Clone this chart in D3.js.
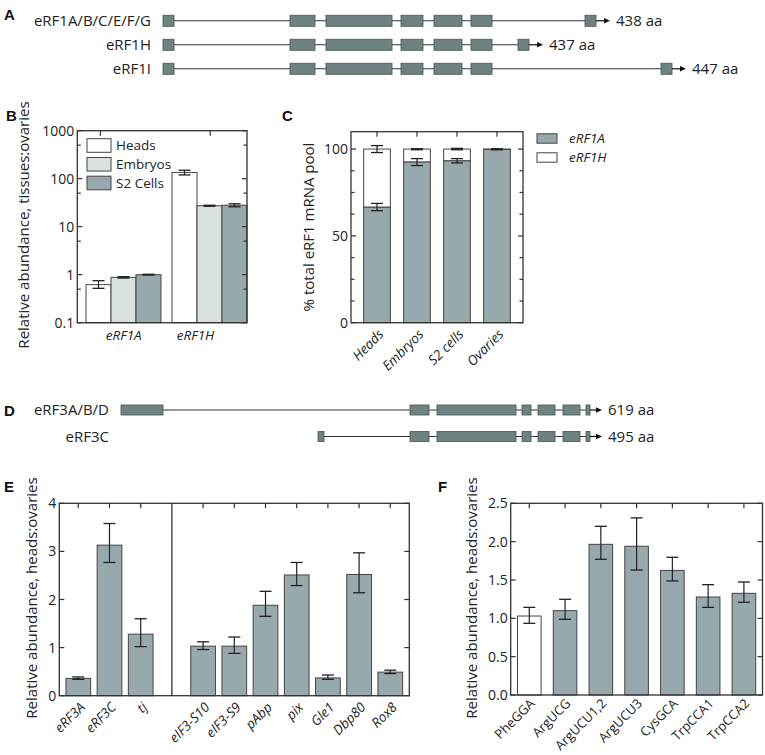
<!DOCTYPE html>
<html><head><meta charset="utf-8">
<script src="https://cdn.jsdelivr.net/npm/d3@7"></script>
<style>
body{margin:0;background:#fff}
svg{display:block}
text{font-family:"Open Sans",sans-serif;fill:#222}
.plabel{font-family:"Liberation Sans",Arial,sans-serif;font-weight:bold;font-size:15px;fill:#111}
</style>
</head><body>
<svg id="c" width="765" height="755"></svg>
<script>
// ---------- Panel A: eRF1 gene models ----------
const isoA = ["eRF1A/B/C/E/F/G", "eRF1H", "eRF1I"];
const lenA = ["438 aa", "437 aa", "447 aa"];
const sharedExonsA = [[3,14],[130,155],[166,232],[241,263],[274,302],[311,332]];
const lastExonA = [[425,436],[358,369],[501,512]];

// ---------- Panel D: eRF3 gene models ----------
const isoD = ["eRF3A/B/D", "eRF3C"];
const lenD = ["619 aa", "495 aa"];
const firstExonD = [[21,63],[218,224]];
const sharedExonsD = [[310,329],[337,416],[422,431],[438,455],[463,480],[486,490]];

// ---------- Panel B ----------
const groupsB = ["eRF1A", "eRF1H"];
const seriesB = ["Heads", "Embryos", "S2 Cells"];
const valuesB = {Heads:[0.62,135], Embryos:[0.88,27.3], "S2 Cells":[1.0,28]};
const errLoB = {Heads:[0.52,120], Embryos:[0.85,26.6], "S2 Cells":[0.98,26]};
const errHiB = {Heads:[0.75,150], Embryos:[0.91,28.0], "S2 Cells":[1.02,30]};
const ticksB = [0.1, 1, 10, 100, 1000];
const tickLabelsB = ["0.1", "1", "10", "100", "1000"];
const minorB = [0.5, 5, 50, 500];

// ---------- Panel C ----------
const catsC = ["Heads", "Embryos", "S2 cells", "Ovaries"];
const eRF1A_C = [66.5, 92.5, 93.2, 99.8];
const errLoA_C = [64.5, 90.5, 92.0, 99.6];
const errHiA_C = [68.7, 94.5, 94.5, 100.0];
const total_C = [100, 100, 100, 100];
const errLoT_C = [98.0, 99.6, 99.6, 99.8];
const errHiT_C = [102.0, 100.2, 100.4, 100.1];
const ticksC = [0, 50, 100];
const minorC = [12.5, 25, 37.5, 62.5, 75, 87.5];

// ---------- Panel E ----------
const catsE = ["eRF3A","eRF3C","tj","eIF3-S10","eIF3-S9","pAbp","pix","Gle1","Dbp80","Rox8"];
const valuesE = [0.36, 3.13, 1.28, 1.03, 1.03, 1.88, 2.51, 0.37, 2.52, 0.49];
const errLoE = [0.34, 2.77, 1.02, 0.96, 0.88, 1.65, 2.29, 0.34, 2.14, 0.46];
const errHiE = [0.39, 3.58, 1.60, 1.12, 1.22, 2.17, 2.77, 0.43, 2.97, 0.53];
const ticksE = [0, 1, 2, 3, 4];

// ---------- Panel F ----------
const catsF = ["PheGGA","ArgUCG","ArgUCU1,2","ArgUCU3","CysGCA","TrpCCA1","TrpCCA2"];
const valuesF = [1.03, 1.10, 1.965, 1.94, 1.625, 1.278, 1.326];
const errLoF = [0.935, 0.987, 1.77, 1.63, 1.487, 1.143, 1.209];
const errHiF = [1.143, 1.248, 2.20, 2.31, 1.796, 1.439, 1.474];
const ticksF = [0, 0.5, 1.0, 1.5, 2.0, 2.5];
const tickLabelsF = ["0.0","0.5","1.0","1.5","2.0","2.5"];

// ---------- styles ----------
const BAR = "#98a9ae", LIGHT = "#d8e1df", EXON = "#6e8282", EXON_S = "#4f5f5f";
const AX = "#333";
const TICK_FS = "14px", TITLE_FS = "15px", CAT_FS = "13.5px", LEG_FS = "13.5px";
const svg = d3.select("#c");

// panel letters
[["A",4,20],["B",6,121],["C",282,121],["D",4,416],["E",4,492],["F",438,492]].forEach(([t,x,y])=>{
  svg.append("text").attr("class","plabel").attr("x",x).attr("y",y).text(t);
});

// ---------- gene model helper ----------
function geneModel(g, xs, y, exons, h, tipLen, label, lenText, labelEnd) {
  const first = exons[0], last = exons[exons.length-1];
  g.append("line").attr("x1",xs(first[0])).attr("x2",xs(last[1])).attr("y1",y).attr("y2",y)
    .attr("stroke","#333").attr("stroke-width",1.1);
  g.selectAll(null).data(exons).join("rect")
    .attr("x",d=>xs(d[0])).attr("width",d=>xs(d[1])-xs(d[0]))
    .attr("y",y-h/2).attr("height",h)
    .attr("fill",EXON).attr("stroke",EXON_S).attr("stroke-width",0.9);
  const x0 = xs(last[1]), tip = x0 + tipLen;
  g.append("line").attr("x1",x0).attr("x2",tip-4).attr("y1",y).attr("y2",y).attr("stroke","#111").attr("stroke-width",1.2);
  g.append("path").attr("d",`M${tip},${y} L${tip-6},${y-2.8} L${tip-6},${y+2.8} Z`).attr("fill","#111");
  g.append("text").attr("x",tip+6).attr("y",y).attr("dy","0.36em").style("font-size","15px").text(lenText);
  g.append("text").attr("x",labelEnd).attr("y",y).attr("dy","0.36em").attr("text-anchor","end")
    .style("font-size","15px").text(label);
}

// Panel A
{
  const xs = d3.scaleLinear().domain([0,540]).range([160,700]);
  const ys = d3.scalePoint().domain(isoA).range([20.8,68.8]);
  const g = svg.append("g");
  isoA.forEach((iso,i)=>{
    geneModel(g, xs, ys(iso), sharedExonsA.concat([lastExonA[i]]), 11, 14, iso, lenA[i], 151);
  });
}
// Panel D
{
  const xs = d3.scaleLinear().domain([0,540]).range([100,640]);
  const ys = d3.scalePoint().domain(isoD).range([410,436.5]);
  const g = svg.append("g");
  isoD.forEach((iso,i)=>{
    geneModel(g, xs, ys(iso), [firstExonD[i]].concat(sharedExonsD), 10, 12, iso, lenD[i], 109);
  });
}

// ---------- helpers ----------
function frame(g, P) {
  g.append("rect").attr("x",P.l).attr("y",P.t).attr("width",P.r-P.l).attr("height",P.b-P.t)
    .attr("fill","none").attr("stroke",AX).attr("stroke-width",1.3);
}
function yTicks(g, P, y, vals, labels, len, withLabels) {
  vals.forEach((v,i)=>{
    const yy = y(v);
    g.append("line").attr("x1",P.l).attr("x2",P.l+len).attr("y1",yy).attr("y2",yy).attr("stroke",AX).attr("stroke-width",1.2);
    g.append("line").attr("x1",P.r).attr("x2",P.r-len).attr("y1",yy).attr("y2",yy).attr("stroke",AX).attr("stroke-width",1.2);
    if (withLabels) g.append("text").attr("x",P.l-3).attr("y",yy).attr("dy","0.36em").attr("text-anchor","end")
      .style("font-size",TICK_FS).text(labels[i]);
  });
}
function topTicks(g, P, xs) {
  xs.forEach(x=>g.append("line").attr("x1",x).attr("x2",x).attr("y1",P.t).attr("y2",P.t+5).attr("stroke",AX).attr("stroke-width",1.2));
}
function errBar(g, x, y1, y2, cap) {
  g.append("line").attr("x1",x).attr("x2",x).attr("y1",y1).attr("y2",y2).attr("stroke","#222").attr("stroke-width",1.2);
  [y1,y2].forEach(yy=>g.append("line").attr("x1",x-cap/2).attr("x2",x+cap/2).attr("y1",yy).attr("y2",yy).attr("stroke","#222").attr("stroke-width",1.3));
}
function yTitle(g, x, y, t) {
  g.append("text").attr("transform",`translate(${x},${y}) rotate(-90)`).attr("text-anchor","middle")
    .style("font-size",TITLE_FS).text(t);
}
function rotLabels(g, cats, xf, yb, italic, fs, off) {
  const o = off || [4, 9];
  cats.forEach((c,i)=>{
    g.append("text").attr("transform",`translate(${xf(c,i)+o[0]},${yb+o[1]}) rotate(-45)`)
      .attr("text-anchor","end").attr("dy","0.36em")
      .style("font-size",fs||CAT_FS).style("font-style",italic?"italic":"normal").text(c);
  });
}

// ---------- Panel B ----------
{
  const P = {l:77.3, r:247, t:130.7, b:322.7};
  const g = svg.append("g");
  const y = d3.scaleLog().domain([0.1,1000]).range([P.b,P.t]);
  const x0 = d3.scaleBand().domain(groupsB).range([86,247]).paddingInner(11/86);
  const x1 = d3.scaleBand().domain(seriesB).range([0,x0.bandwidth()]);
  const fills = {Heads:"#ffffff", Embryos:LIGHT, "S2 Cells":BAR};
  seriesB.forEach(s=>{
    groupsB.forEach((gr,i)=>{
      const v = valuesB[s][i];
      g.append("rect").attr("x",x0(gr)+x1(s)).attr("width",x1.bandwidth()).attr("y",y(v)).attr("height",P.b-y(v))
        .attr("fill",fills[s]).attr("stroke","#444").attr("stroke-width",1);
      errBar(g, x0(gr)+x1(s)+x1.bandwidth()/2, y(errLoB[s][i]), y(errHiB[s][i]), 12);
    });
  });
  frame(g,P);
  yTicks(g,P,y,ticksB,tickLabelsB,5,true);
  yTicks(g,P,y,minorB,[],3.5,false);
  const tickScale = d3.scaleLinear().domain([0.79,2.335]).range([P.l,P.r]);
  topTicks(g,P,[1,2].map(tickScale));
  const labPos = d3.scaleLinear().domain([0,1]).range([123.7,195.5]);
  groupsB.forEach((gr,i)=>g.append("text").attr("x",labPos(i)).attr("y",340).attr("text-anchor","middle")
    .style("font-size",CAT_FS).style("font-style","italic").text(gr));
  yTitle(g, 29, 225, "Relative abundance, tissues:ovaries");
  // legend
  const ly = d3.scalePoint().domain(seriesB).range([145.5,183]);
  seriesB.forEach(s=>{
    g.append("rect").attr("x",87).attr("y",ly(s)-6.8).attr("width",24).attr("height",13.6)
      .attr("fill",fills[s]).attr("stroke","#444").attr("stroke-width",1);
    g.append("text").attr("x",116).attr("y",ly(s)).attr("dy","0.36em").style("font-size",LEG_FS).text(s);
  });
}

// ---------- Panel C ----------
{
  const P = {l:351, r:523, t:131.7, b:322.7};
  const g = svg.append("g");
  const y = d3.scaleLinear().domain([0,110]).range([P.b,P.t]);
  const x = d3.scaleBand().domain(catsC).range([P.l,P.r]).paddingInner(0.333).paddingOuter(0.317);
  catsC.forEach((c,i)=>{
    g.append("rect").attr("x",x(c)).attr("width",x.bandwidth()).attr("y",y(total_C[i])).attr("height",y(eRF1A_C[i])-y(total_C[i]))
      .attr("fill","#fff").attr("stroke","#444").attr("stroke-width",1);
    g.append("rect").attr("x",x(c)).attr("width",x.bandwidth()).attr("y",y(eRF1A_C[i])).attr("height",P.b-y(eRF1A_C[i]))
      .attr("fill",BAR).attr("stroke","#444").attr("stroke-width",1);
    const cx = x(c)+x.bandwidth()/2;
    errBar(g, cx, y(errLoA_C[i]), y(errHiA_C[i]), 12);
    errBar(g, cx, y(errLoT_C[i]), y(errHiT_C[i]), 12);
  });
  frame(g,P);
  yTicks(g,P,y,ticksC,ticksC.map(String),5,true);
  yTicks(g,P,y,minorC,[],3.5,false);
  topTicks(g,P,catsC.map(c=>x(c)+x.bandwidth()/2));
  rotLabels(g, catsC, c=>x(c)+x.bandwidth()/2, P.b, true);
  yTitle(g, 314, 227, "% total eRF1 mRNA pool");
  const leg = [["eRF1A",BAR],["eRF1H","#fff"]];
  const ly = d3.scalePoint().domain(leg.map(d=>d[0])).range([138.5,157.5]);
  leg.forEach(([t,f])=>{
    g.append("rect").attr("x",537).attr("y",ly(t)-4.7).attr("width",20).attr("height",9.4)
      .attr("fill",f).attr("stroke","#444").attr("stroke-width",1);
    g.append("text").attr("x",569).attr("y",ly(t)).attr("dy","0.36em").style("font-size",LEG_FS).style("font-style","italic").text(t);
  });
}

// ---------- Panel E ----------
{
  const P = {l:59.3, r:409.3, t:503.3, b:695.7};
  const g = svg.append("g");
  const y = d3.scaleLinear().domain([0,4]).range([P.b,P.t]);
  const x = d3.scaleBand().domain(d3.range(catsE.length+1)).range([P.l,P.r]).paddingInner(0.208).paddingOuter(0.213);
  const slot = i => i < 3 ? i : i+1;
  const cx = i => x(slot(i)) + x.bandwidth()/2;
  catsE.forEach((c,i)=>{
    g.append("rect").attr("x",x(slot(i))).attr("width",x.bandwidth()).attr("y",y(valuesE[i])).attr("height",P.b-y(valuesE[i]))
      .attr("fill",BAR).attr("stroke","#444").attr("stroke-width",1);
    errBar(g, cx(i), y(errLoE[i]), y(errHiE[i]), 12);
  });
  frame(g,P);
  const divX = x(3)+x.bandwidth()/2;
  g.append("line").attr("x1",divX).attr("x2",divX).attr("y1",P.t).attr("y2",P.b).attr("stroke",AX).attr("stroke-width",1.3);
  yTicks(g,P,y,ticksE,ticksE.map(String),5,true);
  topTicks(g,P,catsE.map((c,i)=>cx(i)));
  rotLabels(g, catsE, (c,i)=>cx(i), P.b, true);
  yTitle(g, 37, 598, "Relative abundance, heads:ovaries");
}

// ---------- Panel F ----------
{
  const P = {l:510.7, r:762.5, t:503.3, b:695};
  const g = svg.append("g");
  const y = d3.scaleLinear().domain([0,2.5]).range([P.b,P.t]);
  const x = d3.scaleBand().domain(catsF).range([P.l,P.r]).paddingInner(0.34).paddingOuter(0.19);
  catsF.forEach((c,i)=>{
    g.append("rect").attr("x",x(c)).attr("width",x.bandwidth()).attr("y",y(valuesF[i])).attr("height",P.b-y(valuesF[i]))
      .attr("fill",i===0?"#fff":BAR).attr("stroke","#444").attr("stroke-width",1);
    errBar(g, x(c)+x.bandwidth()/2, y(errLoF[i]), y(errHiF[i]), 12);
  });
  frame(g,P);
  yTicks(g,P,y,ticksF,tickLabelsF,5,true);
  topTicks(g,P,catsF.map(c=>x(c)+x.bandwidth()/2));
  rotLabels(g, catsF, c=>x(c)+x.bandwidth()/2, P.b, false, "13px", [3, 6]);
  yTitle(g, 477, 598, "Relative abundance, heads:ovaries");
}
</script>
</body></html>
